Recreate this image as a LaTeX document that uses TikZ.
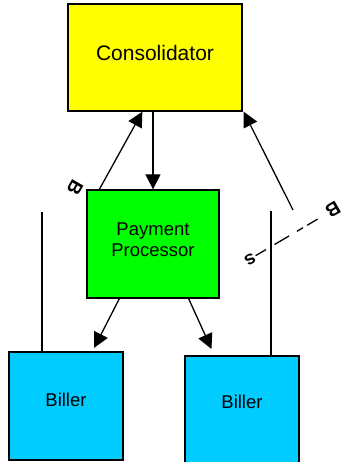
\documentclass[tikz,border=0pt]{standalone}
\usepackage{fontspec}
\setmainfont{Liberation Sans}
\usepackage{xcolor}
\usepackage{tikz}
\usetikzlibrary{arrows.meta,calc,positioning}
\definecolor{consYellow}{HTML}{FFFF00}
\definecolor{procGreen}{HTML}{00FF00}
\definecolor{billCyan}{HTML}{00CCFF}

\begin{document}
\begin{tikzpicture}[x=1pt,y=-1pt,
    box/.style={draw=black,line width=1.3pt,inner sep=0pt},
    bigtext/.style={font=\fontsize{21}{24}\selectfont},
    smalltext/.style={font=\fontsize{18.5}{21}\selectfont,align=center},
    tag/.style={font=\bfseries\fontsize{19}{21}\selectfont,rotate=210,inner sep=1pt},
    arrow/.style={-{Triangle[length=15pt,width=15pt]},line width=1.3pt},
    plain/.style={line width=1.3pt}]
    \useasboundingbox (0,0) rectangle (343,462);
    \node[box,fill=consYellow,minimum width=174pt,minimum height=107pt,
      label={[bigtext,yshift=5pt]center:Consolidator}] (cons) at (155,57.5) {};
    \node[box,fill=procGreen,minimum width=132pt,minimum height=108pt,
      label={[smalltext,yshift=4pt]center:Payment\\Processor}] (proc) at (153,244) {};
    \node[box,fill=billCyan,minimum width=114pt,minimum height=108pt,
      label={[smalltext,yshift=6pt]center:Biller}] (billerL) at (66,406) {};
    \node[box,fill=billCyan,minimum width=114pt,minimum height=108pt,
      label={[smalltext,yshift=8pt]center:Biller}] (billerR) at (242,410) {};
    \coordinate (lineL) at (42,212);
    \coordinate (lineR) at (271,211);
    \coordinate (billsEnd) at (293,210);
    \node[tag,rotate=30] (tagB) at (75,188) {B};
    \node[tag] (tagBR) at (333,210) {B};
    \node[tag] (tagS) at (250,259) {s};
    \draw[arrow] ([xshift=13pt]proc.north west) -- ([xshift=75pt]cons.south west);
    \draw[arrow] ([xshift=-2pt]cons.south) -- (proc.north);
    \draw[arrow,shorten >=4pt] ([xshift=33pt]proc.south west) -- ([xshift=84pt]billerL.north west);
    \draw[arrow,shorten >=7pt] ([xshift=-31pt]proc.south east) -- ([xshift=30pt]billerR.north west);
    \draw[arrow] (billsEnd) -- ([xshift=1pt]cons.south east);
    \draw[plain] (lineL) -- (lineL |- billerL.north);
    \draw[plain] (lineR) -- (lineR |- billerR.north);
    \draw[plain,dash pattern=on 12pt off 10pt on 17pt off 9pt on 7pt off 5pt] (tagS) -- (tagBR);
\end{tikzpicture}
\end{document}
